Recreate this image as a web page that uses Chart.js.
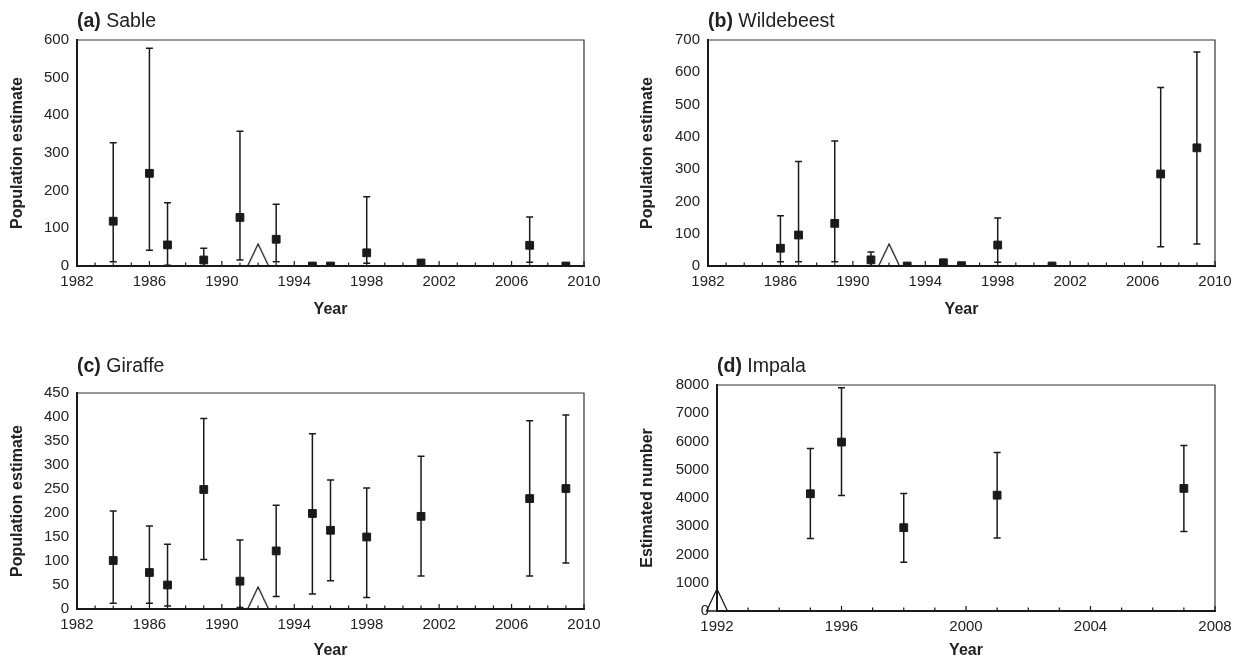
<!DOCTYPE html>
<html>
<head>
<meta charset="utf-8">
<script src="https://cdn.jsdelivr.net/npm/chart.js@4.4.1/dist/chart.umd.min.js"></script>
<style>
  body { margin: 0; background: #fff; }
  canvas { position: absolute; }
</style>
</head>
<body>
<canvas id="ca" width="620" height="320" style="left:0;top:0"></canvas>
<canvas id="cb" width="619" height="320" style="left:620px;top:0"></canvas>
<canvas id="cc" width="620" height="341" style="left:0;top:320px"></canvas>
<canvas id="cd" width="619" height="341" style="left:620px;top:320px"></canvas>
<script>
// (a) Sable
const sableYears = [1984, 1986, 1987, 1989, 1991, 1993, 1995, 1996, 1998, 2001, 2007, 2009];
const sableEst   = [119, 246, 56, 16, 129, 71, 0, 0, 35, 8, 55, 0];
const sableLow   = [11, 42, 2, 0, 16, 11, null, null, 7, null, 10, null];
const sableHigh  = [327, 578, 168, 47, 358, 164, null, null, 184, null, 130, null];

// (b) Wildebeest
const wildYears = [1986, 1987, 1989, 1991, 1993, 1995, 1996, 1998, 2001, 2007, 2009];
const wildEst   = [55, 96, 132, 19, 0, 10, 1, 65, 0, 285, 366];
const wildLow   = [13, 13, 13, 0, null, null, null, 12, null, 60, 68];
const wildHigh  = [156, 324, 387, 43, null, null, null, 149, null, 553, 663];

// (c) Giraffe
const giraffeYears = [1984, 1986, 1987, 1989, 1991, 1993, 1995, 1996, 1998, 2001, 2007, 2009];
const giraffeEst   = [101, 76, 50, 249, 58, 121, 199, 164, 150, 193, 230, 251];
const giraffeLow   = [12, 12, 6, 103, 3, 26, 31, 59, 24, 69, 69, 96];
const giraffeHigh  = [204, 173, 135, 397, 144, 216, 365, 269, 252, 318, 392, 404];

// (d) Impala
const impalaYears = [1995, 1996, 1998, 2001, 2007];
const impalaEst   = [4150, 5980, 2950, 4100, 4340];
const impalaLow   = [2570, 4090, 1730, 2580, 2810];
const impalaHigh  = [5750, 7900, 4160, 5610, 5860];

// open triangle on the x axis
const triangleYear = 1992;

// axis ranges
const rangeA = { xMin: 1982, xMax: 2010, yMax: 600, yStep: 100 };
const rangeB = { xMin: 1982, xMax: 2010, yMax: 700, yStep: 100 };
const rangeC = { xMin: 1982, xMax: 2010, yMax: 450, yStep: 50 };
const rangeD = { xMin: 1992, xMax: 2008, yMax: 8000, yStep: 1000 };

Chart.defaults.font.family = '"Liberation Sans", Arial, sans-serif';
Chart.defaults.color = '#222';

const ink = '#1a1a1a';

// triangle marker image, base sits at the centre line
function makeTriangle() {
  const c = document.createElement('canvas');
  c.width = 24; c.height = 46;
  const g = c.getContext('2d');
  g.strokeStyle = ink;
  g.lineWidth = 1.3;
  g.beginPath();
  g.moveTo(12, 1);
  g.lineTo(1.5, 23);
  g.lineTo(22.5, 23);
  g.closePath();
  g.stroke();
  return c;
}
const triangleImg = makeTriangle();

const errorBars = {
  id: 'errorBars',
  beforeDatasetsDraw(chart) {
    const ctx = chart.ctx;
    const xs = chart.scales.x, ys = chart.scales.y;
    chart.data.datasets.forEach(ds => {
      if (!ds.errLow) return;
      ctx.save();
      ctx.strokeStyle = ink;
      ctx.lineWidth = 1.5;
      ds.data.forEach((p, i) => {
        const lo = ds.errLow[i], hi = ds.errHigh[i];
        if (lo == null || hi == null) return;
        const x = xs.getPixelForValue(p.x);
        const y1 = ys.getPixelForValue(lo), y2 = ys.getPixelForValue(hi);
        ctx.beginPath();
        ctx.moveTo(x, y1); ctx.lineTo(x, y2);
        ctx.moveTo(x - 3.5, y1); ctx.lineTo(x + 3.5, y1);
        ctx.moveTo(x - 3.5, y2); ctx.lineTo(x + 3.5, y2);
        ctx.stroke();
      });
      ctx.restore();
    });
  }
};

const frame = {
  id: 'frame',
  beforeDatasetsDraw(chart) {
    const { ctx, chartArea: a } = chart;
    const xs = chart.scales.x;
    ctx.save();
    ctx.strokeStyle = '#333';
    ctx.lineWidth = 1.2;
    ctx.beginPath();
    ctx.moveTo(a.left, a.top); ctx.lineTo(a.right, a.top); ctx.lineTo(a.right, a.bottom);
    ctx.stroke();
    // inward year ticks
    ctx.strokeStyle = ink;
    ctx.beginPath();
    for (let yr = xs.min; yr <= xs.max; yr++) {
      const x = xs.getPixelForValue(yr);
      const len = (yr - xs.min) % 4 === 0 ? 5 : 3.5;
      ctx.moveTo(x, a.bottom); ctx.lineTo(x, a.bottom - len);
    }
    ctx.stroke();
    ctx.restore();
  }
};

const panelTitle = {
  id: 'panelTitle',
  afterDraw(chart, args, opts) {
    const ctx = chart.ctx;
    ctx.save();
    ctx.fillStyle = '#222';
    ctx.textBaseline = 'alphabetic';
    ctx.font = 'bold 19.5px "Liberation Sans", Arial, sans-serif';
    ctx.fillText(opts.tag, chart.chartArea.left, opts.y);
    const w = ctx.measureText(opts.tag + ' ').width;
    ctx.font = '19.5px "Liberation Sans", Arial, sans-serif';
    ctx.fillText(opts.name, chart.chartArea.left + w, opts.y);
    ctx.restore();
  }
};

function makePanel(id, tag, name, years, est, low, high, range, yTitle, box) {
  const canvas = document.getElementById(id);
  new Chart(canvas, {
    type: 'scatter',
    data: {
      datasets: [
        {
          data: years.map((y, i) => ({ x: y, y: est[i] })),
          errLow: low,
          errHigh: high,
          pointStyle: 'rect',
          pointRadius: 5.5,
          pointBackgroundColor: ink,
          pointBorderColor: ink,
          pointBorderWidth: 1
        },
        {
          data: [{ x: triangleYear, y: 0 }],
          pointStyle: triangleImg,
          clip: false
        }
      ]
    },
    options: {
      responsive: false,
      animation: false,
      layout: { padding: { top: box.t, left: 0, right: canvas.width - box.r, bottom: 0 } },
      plugins: {
        legend: { display: false },
        tooltip: { enabled: false },
        panelTitle: { tag: tag, name: name, y: box.ty }
      },
      scales: {
        x: {
          type: 'linear',
          min: range.xMin,
          max: range.xMax,
          afterFit(s) { s.height = canvas.height - box.b; s.paddingLeft = 0; s.paddingRight = 0; },
          grid: { drawOnChartArea: false, drawTicks: false },
          border: { color: ink, width: 2 },
          ticks: {
            stepSize: 4,
            padding: 7,
            font: { size: 15 },
            color: '#222',
            callback: v => String(v)
          },
          title: { display: true, text: 'Year', font: { size: 16, weight: 'bold' }, color: '#222', padding: { top: 0, bottom: 1 } }
        },
        y: {
          min: 0,
          max: range.yMax,
          afterFit(s) { s.width = box.l; s.paddingTop = 0; s.paddingBottom = 0; },
          grid: { drawOnChartArea: false, drawTicks: false },
          border: { color: ink, width: 2 },
          ticks: {
            stepSize: range.yStep,
            padding: 8,
            font: { size: 15 },
            color: '#222',
            callback: v => String(v)
          },
          title: { display: true, text: yTitle, font: { size: 16, weight: 'bold' }, color: '#222', padding: { top: box.yt - 9.6, bottom: 0 } }
        }
      }
    },
    plugins: [errorBars, frame, panelTitle]
  });
}

makePanel('ca', '(a)', 'Sable', sableYears, sableEst, sableLow, sableHigh, rangeA, 'Population estimate',
  { l: 77, t: 40, r: 584, b: 266, ty: 27, yt: 18 });
makePanel('cb', '(b)', 'Wildebeest', wildYears, wildEst, wildLow, wildHigh, rangeB, 'Population estimate',
  { l: 88, t: 40, r: 595, b: 266, ty: 27, yt: 28 });
makePanel('cc', '(c)', 'Giraffe', giraffeYears, giraffeEst, giraffeLow, giraffeHigh, rangeC, 'Population estimate',
  { l: 77, t: 73, r: 584, b: 289, ty: 52, yt: 18 });
makePanel('cd', '(d)', 'Impala', impalaYears, impalaEst, impalaLow, impalaHigh, rangeD, 'Estimated number',
  { l: 97, t: 65, r: 595, b: 291, ty: 52, yt: 28 });
</script>
</body>
</html>
